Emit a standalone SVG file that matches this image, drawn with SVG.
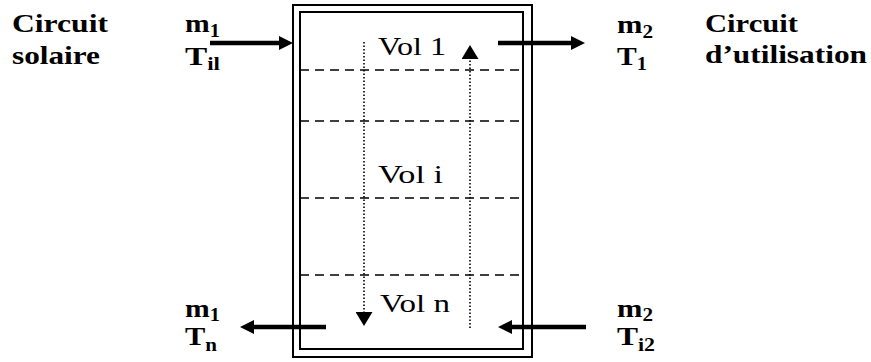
<svg xmlns="http://www.w3.org/2000/svg" width="871" height="362" viewBox="0 0 871 362">
  <style>
    text { font-family: "Liberation Serif", "Times New Roman", Times, serif; fill: #000; }
    .lbl { font-weight: bold; font-size: 25px; }
    .var { font-weight: bold; font-size: 26px; }
    .sub { font-size: 18px; }
    .vol { font-size: 25px; font-weight: normal; }
    .wall { fill: none; stroke: #000; stroke-width: 2; }
    .layer { fill: none; stroke: #000; stroke-width: 1.6; stroke-dasharray: 9 6; }
    .dot { fill: none; stroke: #000; stroke-width: 1.6; stroke-dasharray: 1.5 2; }
    .flow { fill: none; stroke: #000; stroke-width: 4.5; }
  </style>
  <defs>
    <marker id="bigHead" viewBox="0 0 14 14" markerWidth="14" markerHeight="14" refX="0" refY="7" orient="auto" markerUnits="userSpaceOnUse">
      <path d="M0,0 L14,7 L0,14 Z" fill="#000"/>
    </marker>
    <marker id="dotHead" viewBox="0 0 14 17" markerWidth="14" markerHeight="17" refX="0" refY="8.5" orient="auto" markerUnits="userSpaceOnUse">
      <path d="M0,0 L14,8.5 L0,17 Z" fill="#000"/>
    </marker>
  </defs>

  <g id="tank">
    <rect class="wall" x="293" y="5" width="239" height="352"/>
    <rect class="wall" x="300" y="12" width="223" height="337"/>
    <line class="layer" x1="300" y1="70" x2="523" y2="70"/>
    <line class="layer" x1="300" y1="121" x2="523" y2="121"/>
    <line class="layer" x1="300" y1="198" x2="523" y2="198"/>
    <line class="layer" x1="300" y1="275" x2="523" y2="275"/>
  </g>

  <g id="vol1"><text class="vol" x="378" y="55" textLength="68" lengthAdjust="spacingAndGlyphs">Vol 1</text></g>
  <g id="voli"><text class="vol" x="378" y="183" textLength="65" lengthAdjust="spacingAndGlyphs">Vol i</text></g>
  <g id="voln"><text class="vol" x="380" y="312" textLength="70" lengthAdjust="spacingAndGlyphs">Vol n</text></g>

  <g id="circuit-solaire">
    <text class="lbl" x="12" y="32" textLength="96" lengthAdjust="spacingAndGlyphs">Circuit</text>
    <text class="lbl" x="12" y="64" textLength="88" lengthAdjust="spacingAndGlyphs">solaire</text>
  </g>
  <g id="circuit-utilisation">
    <text class="lbl" x="705" y="32" textLength="93" lengthAdjust="spacingAndGlyphs">Circuit</text>
    <text class="lbl" x="705" y="63" textLength="162" lengthAdjust="spacingAndGlyphs">d’utilisation</text>
  </g>

  <g id="inlet-solar">
    <text class="var" x="185" y="32" textLength="35" lengthAdjust="spacingAndGlyphs">m<tspan class="sub" dy="5">1</tspan></text>
    <text class="var" x="185" y="65" textLength="35" lengthAdjust="spacingAndGlyphs">T<tspan class="sub" dy="5">il</tspan></text>
  </g>
  <g id="outlet-use">
    <text class="var" x="617" y="33" textLength="36" lengthAdjust="spacingAndGlyphs">m<tspan class="sub" dy="5">2</tspan></text>
    <text class="var" x="617" y="65" textLength="30" lengthAdjust="spacingAndGlyphs">T<tspan class="sub" dy="5">1</tspan></text>
  </g>
  <g id="outlet-solar">
    <text class="var" x="185" y="317" textLength="35" lengthAdjust="spacingAndGlyphs">m<tspan class="sub" dy="4">1</tspan></text>
    <text class="var" x="185" y="345" textLength="32" lengthAdjust="spacingAndGlyphs">T<tspan class="sub" dy="6">n</tspan></text>
  </g>
  <g id="inlet-use">
    <text class="var" x="617" y="317" textLength="36" lengthAdjust="spacingAndGlyphs">m<tspan class="sub" dy="4">2</tspan></text>
    <text class="var" x="617" y="345" textLength="38" lengthAdjust="spacingAndGlyphs">T<tspan class="sub" dy="6">i2</tspan></text>
  </g>

  <g id="connectors">
    <line class="flow" x1="210" y1="43" x2="279" y2="43" marker-end="url(#bigHead)"/>
    <line class="flow" x1="498" y1="43" x2="571" y2="43" marker-end="url(#bigHead)"/>
    <line class="flow" x1="326" y1="327" x2="254" y2="327" marker-end="url(#bigHead)"/>
    <line class="flow" x1="586" y1="327" x2="512" y2="327" marker-end="url(#bigHead)"/>
    <line class="dot" x1="364" y1="42" x2="364" y2="312" marker-end="url(#dotHead)"/>
    <line class="dot" x1="470" y1="328" x2="470" y2="59" marker-end="url(#dotHead)"/>
  </g>
</svg>
